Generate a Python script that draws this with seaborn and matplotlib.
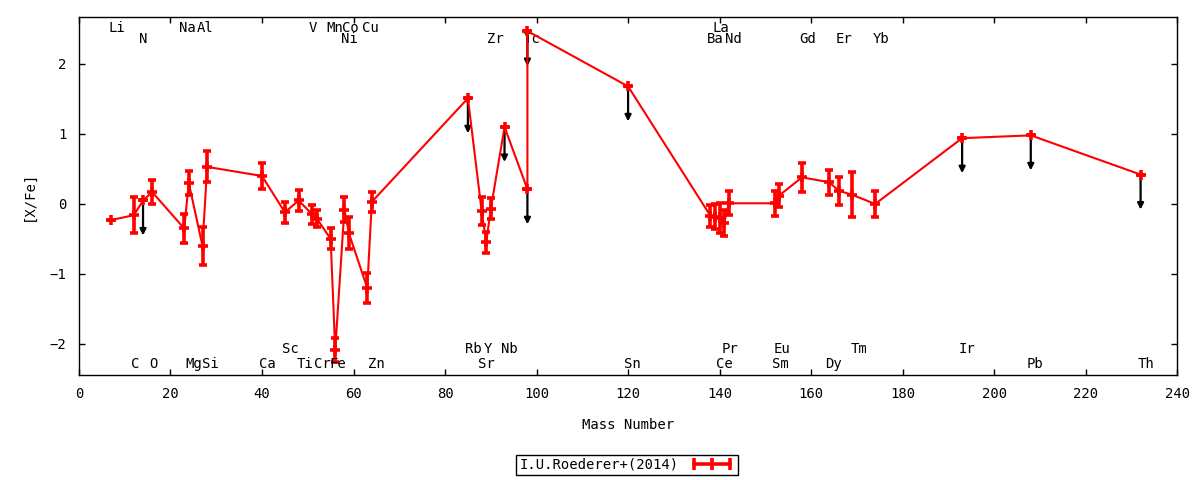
import matplotlib as mpl
import seaborn as sns
import pandas as pd
import numpy as np
from matplotlib.lines import Line2D
plt = mpl.pyplot

# abundance pattern [X/Fe] vs mass number
mass = [7, 12, 14, 16, 23, 24, 27, 28, 40, 45, 48, 51, 52, 55, 56, 58, 59, 63, 64,
        85, 88, 89, 90, 93, 98, 98, 120,
        138, 139, 140, 141, 142, 152, 153, 158, 164, 166, 169, 174,
        193, 208, 232]
xfe = [-0.23, -0.16, 0.05, 0.17, -0.35, 0.30, -0.60, 0.53, 0.40, -0.12, 0.05, -0.15, -0.21, -0.50, -2.09, -0.08, -0.42, -1.20, 0.03,
       1.51, -0.10, -0.55, -0.07, 1.10, 0.21, 2.47, 1.68,
       -0.17, -0.18, -0.20, -0.27, 0.01, 0.01, 0.12, 0.38, 0.31, 0.19, 0.13, 0.00,
       0.94, 0.98, 0.42]
err = [0.0, 0.26, 0.0, 0.17, 0.21, 0.17, 0.27, 0.22, 0.18, 0.15, 0.155, 0.14, 0.12, 0.15, 0.17, 0.18, 0.23, 0.21, 0.14,
       0.0, 0.2, 0.15, 0.15, 0.0, 0.0, 0.0, 0.0,
       0.155, 0.18, 0.21, 0.19, 0.17, 0.18, 0.17, 0.21, 0.18, 0.2, 0.32, 0.19,
       0.0, 0.0, 0.0]
upper = [0, 0, 1, 0, 0, 0, 0, 0, 0, 0, 0, 0, 0, 0, 0, 0, 0, 0, 0,
         1, 0, 0, 0, 1, 1, 1, 1,
         0, 0, 0, 0, 0, 0, 0, 0, 0, 0, 0, 0,
         1, 1, 1]

# element labels: (name, x position) per row
top1 = [('Li', 8.2), ('Na', 23.7), ('Al', 27.5), ('V', 51.1), ('Mn', 56.0),
        ('Co', 59.3), ('Cu', 63.7), ('La', 140.2)]
top2 = [('N', 14.0), ('Ni', 59.1), ('Zr', 91.0), ('Tc', 98.9), ('Ba', 139.1),
        ('Nd', 143.1), ('Gd', 159.2), ('Er', 167.1), ('Yb', 175.2)]
bot1 = [('Sc', 46.1), ('Rb', 86.1), ('Y', 89.3), ('Nb', 94.0), ('Pr', 142.2),
        ('Eu', 153.6), ('Tm', 170.5), ('Ir', 194.0)]
bot2 = [('C', 12.2), ('O', 16.2), ('Mg', 25.1), ('Si', 28.8), ('Ca', 41.1),
        ('Ti', 49.4), ('Cr', 53.1), ('Fe', 56.6), ('Zn', 65.1), ('Sr', 89.0),
        ('Sn', 120.9), ('Ce', 141.0), ('Sm', 153.2), ('Dy', 164.8),
        ('Pb', 209.0), ('Th', 233.2)]
row_y = {'top1': 2.52, 'top2': 2.36, 'bot1': -2.07, 'bot2': -2.29}

sns.set_style('ticks')
mpl.rcParams['font.family'] = ['DejaVu Sans Mono', 'DejaVu Sans']
mpl.rcParams['font.size'] = 10
mpl.rcParams['text.color'] = 'black'
mpl.rcParams['axes.labelcolor'] = 'black'
mpl.rcParams['xtick.color'] = 'black'
mpl.rcParams['ytick.color'] = 'black'

df = pd.DataFrame({'mass': mass, 'xfe': xfe, 'err': err, 'upper': upper})

fig = plt.figure(figsize=(12, 4.8), dpi=100)
ax = fig.add_axes([0.0658, 0.2188, 0.9152, 0.7458])

# upper limit arrows
for _, r in df[df['upper'] == 1].iterrows():
    ax.annotate('', xy=(r['mass'], r['xfe'] - 0.5), xytext=(r['mass'], r['xfe']),
                arrowprops=dict(arrowstyle='-|>', color='black', lw=1.6,
                                mutation_scale=9, shrinkA=0, shrinkB=0),
                zorder=1)

ax.errorbar(df['mass'], df['xfe'], yerr=df['err'], fmt='none', ecolor='red',
            elinewidth=2.6, capsize=2.6, capthick=2.6, zorder=3)
sns.lineplot(data=df, x='mass', y='xfe', sort=False, estimator=None, color='red',
             lw=1.5, marker='+', markersize=7, markeredgewidth=2.6,
             markeredgecolor='red', ax=ax, zorder=4, legend=False)

for key, items in [('top1', top1), ('top2', top2), ('bot1', bot1), ('bot2', bot2)]:
    for name, xpos in items:
        ax.text(xpos, row_y[key], name, ha='center', va='center', fontsize=10,
                color='black')

ax.set_xlim(0, 240)
ax.set_ylim(-2.443, 2.671)
ax.set_xticks(np.arange(0, 241, 20))
ax.set_yticks([-2, -1, 0, 1, 2])
ax.tick_params(direction='in', top=True, right=True, length=4, width=1, pad=9,
               labelsize=10, colors='black')
for s in ax.spines.values():
    s.set_linewidth(1)
    s.set_color('black')
ax.set_xlabel('Mass Number', labelpad=12)
ax.set_ylabel('[X/Fe]', labelpad=10)

handle = Line2D([], [], color='red', lw=2.6, marker='|', markersize=8,
                markeredgewidth=2.6)
leg = fig.legend([handle], ['I.U.Roederer+(2014)'], loc='center',
                 bbox_to_anchor=(627 / 1200, 1 - 465 / 480), numpoints=3,
                 markerfirst=False, fancybox=False, framealpha=1,
                 edgecolor='black', handlelength=3.2, borderpad=0.25,
                 handletextpad=0.8, fontsize=10)
leg.get_frame().set_linewidth(1)

plt.savefig('out.png', dpi=100, facecolor='white')
